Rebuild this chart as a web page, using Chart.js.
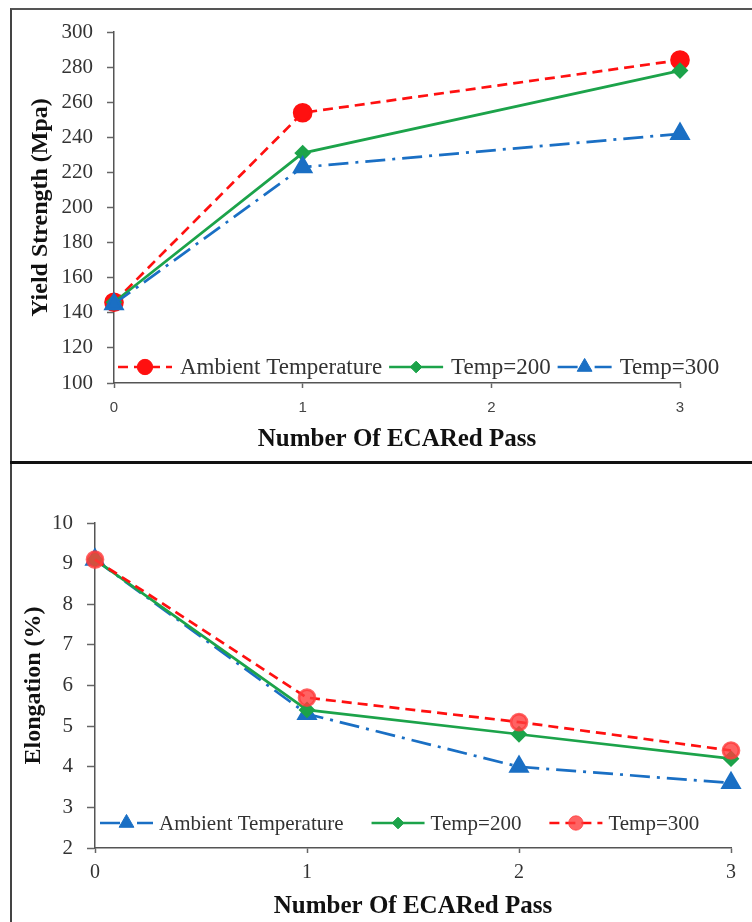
<!DOCTYPE html>
<html>
<head>
<meta charset="utf-8">
<script src="https://cdn.jsdelivr.net/npm/chart.js@4.4.1/dist/chart.umd.min.js"></script>
<style>
  body { margin: 0; background: #fff; }
  #wrap { position: relative; width: 752px; height: 922px; overflow: hidden; }
  #frame { position: absolute; left: 10px; top: 8px; width: 760px; height: 930px;
           border-left: 2px solid #444; border-top: 2px solid #555; }
  #sep { position: absolute; left: 10px; top: 461px; width: 742px; height: 3px; background: #111; }
  canvas { position: absolute; left: 0; }
  #c1 { top: 0; }
  #c2 { top: 463px; }
</style>
</head>
<body>
<div id="wrap">
  <div id="frame"></div>
  <div id="sep"></div>
  <canvas id="c1" width="752" height="463"></canvas>
  <canvas id="c2" width="752" height="459"></canvas>
</div>
<script>
// yield strength chart
const ysPasses = [0, 1, 3];
const ysAmbient = [146, 254, 284];
const ys200 = [146, 231, 278];
const ys300 = [145, 223, 242];

// elongation chart
const elPasses = [0, 1, 2, 3];
const elAmbient = [9.1, 5.3, 4.0, 3.6];
const el200 = [9.1, 5.4, 4.8, 4.2];
const el300 = [9.1, 5.7, 5.1, 4.4];

const RED = '#ff1010';
const GREEN = '#1ca34a';
const BLUE = '#1a6fc4';
const SERIF = "'Liberation Serif', 'Times New Roman', serif";

function pts(xs, ys) {
  return xs.map((x, i) => ({ x: x, y: ys[i] }));
}

// legend drawn inside the plot: line sample + marker + text
const inlineLegend = {
  id: 'inlineLegend',
  afterDraw(chart, args, opts) {
    const ctx = chart.ctx;
    const area = chart.chartArea;
    const y = area.bottom - opts.lift;
    let x = area.left + opts.start;
    ctx.save();
    ctx.font = opts.fontSize + 'px ' + SERIF;
    ctx.textBaseline = 'middle';
    chart.data.datasets.forEach(ds => {
      ctx.save();
      ctx.strokeStyle = ds.borderColor;
      ctx.lineWidth = ds.borderWidth;
      ctx.setLineDash(ds.borderDash || []);
      ctx.beginPath();
      ctx.moveTo(x, y);
      ctx.lineTo(x + opts.sample, y);
      ctx.stroke();
      ctx.restore();
      ctx.fillStyle = ds.pointBackgroundColor;
      ctx.strokeStyle = ds.pointBackgroundColor;
      ctx.lineWidth = 1;
      Chart.helpers.drawPoint(ctx, { pointStyle: ds.pointStyle, radius: ds.pointRadius * 0.9, borderWidth: 1 },
        x + opts.sample / 2, y);
      ctx.fillStyle = '#333';
      const tx = x + opts.sample + opts.textGap;
      ctx.fillText(ds.label, tx, y + 1);
      x = tx + ctx.measureText(ds.label).width + opts.itemGap;
    });
    ctx.restore();
  }
};

function axisBase(extra) {
  return Object.assign({
    type: 'linear',
    border: { display: true, color: '#555', width: 1.5 }
  }, extra);
}

new Chart(document.getElementById('c1'), {
  type: 'line',
  data: {
    datasets: [{
      label: 'Ambient Temperature',
      data: pts(ysPasses, ysAmbient),
      borderColor: RED, pointBackgroundColor: RED, pointBorderColor: RED,
      borderWidth: 2.7, borderDash: [10, 6], pointStyle: 'circle', pointRadius: 8.5, order: 2
    }, {
      label: 'Temp=200',
      data: pts(ysPasses, ys200),
      borderColor: GREEN, pointBackgroundColor: GREEN, pointBorderColor: GREEN,
      borderWidth: 2.7, pointStyle: 'rectRot', pointRadius: 6.5, order: 1
    }, {
      label: 'Temp=300',
      data: pts(ysPasses, ys300),
      borderColor: BLUE, pointBackgroundColor: BLUE, pointBorderColor: BLUE,
      borderWidth: 2.7, borderDash: [20, 7, 3, 7], pointStyle: 'triangle', pointRadius: 9.5, order: 0
    }]
  },
  options: {
    responsive: false,
    animation: false,
    devicePixelRatio: 1,
    clip: false,
    layout: { padding: { left: 10, top: 32, right: 72, bottom: 0 } },
    plugins: {
      legend: { display: false },
      tooltip: { enabled: false },
      inlineLegend: { lift: 16, start: 4, sample: 54, textGap: 8, itemGap: 7, fontSize: 23 }
    },
    scales: {
      x: axisBase({
        min: 0, max: 3,
        grid: { drawOnChartArea: false, tickLength: 5, color: '#666', tickWidth: 1.5 },
        ticks: { stepSize: 1, padding: 11, color: '#444', font: { family: "'Liberation Sans', Arial, sans-serif", size: 15 } },
        title: { display: true, text: 'Number Of ECARed Pass', color: '#111',
                 font: { family: SERIF, size: 25, weight: 'bold' }, padding: { bottom: 8 } },
        afterFit(s) { s.height = 80; }
      }),
      y: axisBase({
        min: 100, max: 300,
        grid: { drawOnChartArea: false, tickLength: 7, color: '#666', tickWidth: 1.5 },
        ticks: { stepSize: 20, padding: 14, color: '#333', font: { family: SERIF, size: 21 } },
        title: { display: true, text: 'Yield Strength (Mpa)', color: '#111',
                 font: { family: SERIF, size: 24, weight: 'bold' }, padding: { top: 16 } },
        afterFit(s) { s.width = 104; }
      })
    }
  },
  plugins: [inlineLegend]
});

new Chart(document.getElementById('c2'), {
  type: 'line',
  data: {
    datasets: [{
      label: 'Ambient Temperature',
      data: pts(elPasses, elAmbient),
      borderColor: BLUE, pointBackgroundColor: BLUE, pointBorderColor: BLUE,
      borderWidth: 2.7, borderDash: [20, 7, 3, 7], pointStyle: 'triangle', pointRadius: 9.5, order: 2
    }, {
      label: 'Temp=200',
      data: pts(elPasses, el200),
      borderColor: GREEN, pointBackgroundColor: GREEN, pointBorderColor: GREEN,
      borderWidth: 2.7, pointStyle: 'rectRot', pointRadius: 6.5, order: 1
    }, {
      label: 'Temp=300',
      data: pts(elPasses, el300),
      borderColor: RED, pointBackgroundColor: 'rgba(255,60,60,0.8)', pointBorderColor: 'rgba(255,60,60,0.8)',
      borderWidth: 2.7, borderDash: [10, 6], pointStyle: 'circle', pointRadius: 8, order: 0
    }]
  },
  options: {
    responsive: false,
    animation: false,
    devicePixelRatio: 1,
    clip: false,
    layout: { padding: { left: 10, top: 60, right: 21, bottom: 0 } },
    plugins: {
      legend: { display: false },
      tooltip: { enabled: false },
      inlineLegend: { lift: 25, start: 5, sample: 53, textGap: 6, itemGap: 28, fontSize: 21 }
    },
    scales: {
      x: axisBase({
        min: 0, max: 3,
        grid: { drawOnChartArea: false, tickLength: 5, color: '#666', tickWidth: 1.5 },
        ticks: { stepSize: 1, padding: 8, color: '#333', font: { family: SERIF, size: 20 } },
        title: { display: true, text: 'Number Of ECARed Pass', color: '#111',
                 font: { family: SERIF, size: 25, weight: 'bold' }, padding: { bottom: 0 } },
        afterFit(s) { s.height = 74; }
      }),
      y: axisBase({
        min: 2, max: 10,
        grid: { drawOnChartArea: false, tickLength: 8, color: '#666', tickWidth: 1.5 },
        ticks: { stepSize: 1, padding: 14, color: '#333', font: { family: SERIF, size: 21 } },
        title: { display: true, text: 'Elongation (%)', color: '#111',
                 font: { family: SERIF, size: 24, weight: 'bold' }, padding: { top: 9 } },
        afterFit(s) { s.width = 85; }
      })
    }
  },
  plugins: [inlineLegend]
});
</script>
</body>
</html>
